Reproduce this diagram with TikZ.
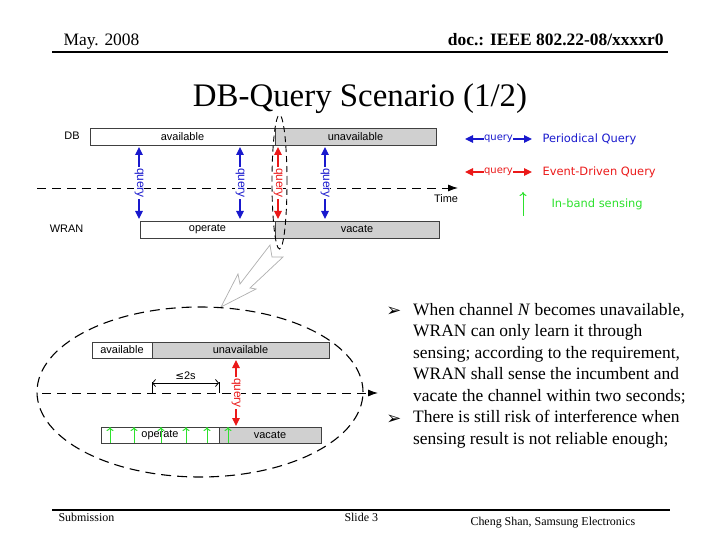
\documentclass[tikz,border=0pt]{standalone}
\usepackage{fontspec}
\setmainfont{Liberation Serif}
\newfontfamily\arial{Liberation Sans}
\newfontfamily\verd{DejaVu Sans}
\usetikzlibrary{arrows.meta}
\definecolor{bleu}{RGB}{25,25,205}
\definecolor{rouge}{RGB}{235,25,25}
\definecolor{vert}{RGB}{45,225,45}
\definecolor{gris}{RGB}{208,208,208}
\definecolor{grisbord}{RGB}{175,175,175}

\begin{document}
\begin{tikzpicture}[x=1bp, y=-1bp,
  lbl/.style={font=\arial\fontsize{11}{13}\selectfont},
  bar/.style={draw=black!75, line width=0.8bp},
  axe/.style={dash pattern=on 9bp off 6bp, line width=0.9bp, -{Latex[length=10bp,width=7bp]}},
  qarrow/.style={line width=1.2bp, {Triangle[length=8bp,width=7.5bp]}-{Triangle[length=8bp,width=7.5bp]}},
  qlabel/.style={rotate=-90, fill=white, inner sep=0.6bp, font=\arial\fontsize{12}{14}\selectfont},
  leglabel/.style={fill=white, inner sep=0.6bp, font=\verd\fontsize{10}{12}\selectfont},
  sensarrow/.style={vert, line width=1bp, -{To[length=4bp,width=7bp]}}]

\useasboundingbox (0,0) rectangle (720,540);

% En-tete
\node[anchor=base west, font=\fontsize{17.5}{20}\selectfont] (date) at (60,46) {May. 2008};
\node[anchor=base east, font=\bfseries\fontsize{17.5}{20}\selectfont] (doc) at (667,46) {doc.: IEEE 802.22-08/xxxxr0};
\draw[line width=1.8bp] (52,52) -- (668,52);
\node[anchor=base, font=\fontsize{33}{36}\selectfont] (titre) at (360,107) {DB-Query Scenario (1/2)};

% Barres DB / WRAN
\node[lbl, anchor=center] (db) at (72,136) {DB};
\node[lbl, anchor=center] (wran) at (66.5,229) {WRAN};
\draw[bar, fill=white] (90,128) rectangle (275,145) node[midway, lbl] (dbav) {available};
\draw[bar, fill=gris] (275,128) rectangle (436,145) node[midway, lbl] (dbun) {unavailable};
\draw[bar, fill=white] (140,221) rectangle (275,238) node[midway, lbl] (wrop) {operate};
\draw[bar, fill=gris] (275,221) rectangle (439,238) node[midway, lbl] (wrva) {vacate};

% Axe du temps
\draw[axe] (37,188) -- (458,188);
\node[lbl] (time) at (446,199) {Time};

% Requetes
\draw[qarrow, bleu] (139,147) -- (139,219) node[midway, qlabel, text=bleu] (q1) {query};
\draw[qarrow, bleu] (240,147) -- (240,219) node[midway, qlabel, text=bleu] (q2) {query};
\draw[qarrow, rouge] (278,147) -- (278,219) node[midway, qlabel, text=rouge] (q3) {query};
\draw[qarrow, bleu] (325,147) -- (325,219) node[midway, qlabel, text=bleu] (q4) {query};
\draw[dash pattern=on 6bp off 4bp, line width=0.9bp] (279.5,182) ellipse [x radius=7.5bp, y radius=67bp];

% Legende
\draw[qarrow, bleu] (465,139) -- (532,139) node[midway, leglabel, text=bleu] (lq1) {query};
\node[anchor=west, text=bleu, font=\verd\fontsize{11.5}{13}\selectfont] (per) at (539,139) {Periodical Query};
\draw[qarrow, rouge] (465,172) -- (532,172) node[midway, leglabel, text=rouge] (lq2) {query};
\node[anchor=west, text=rouge, font=\verd\fontsize{11.5}{13}\selectfont] (evt) at (539,172) {Event-Driven Query};
\draw[sensarrow] (523,216) -- (523,192);
\node[anchor=west, text=vert, font=\verd\fontsize{11.5}{13}\selectfont] (inb) at (548,204) {In-band sensing};

% Loupe
\draw[grisbord, fill=white, line width=0.7bp] (270,245) -- (272,257) -- (283,257) -- (250,288) -- (256,289)
  -- (221,307) -- (238,274) -- (240,284) -- cycle;
\draw[dash pattern=on 10bp off 6bp, line width=1.1bp] (200,392) ellipse [x radius=163bp, y radius=85bp];

% Detail
\draw[bar, fill=white] (92,342) rectangle (152,358) node[midway, lbl] (zav) {available};
\draw[bar, fill=gris] (152,342) rectangle (329,358) node[midway, lbl] (zun) {unavailable};
\draw[axe] (42,393) -- (378,393);
\draw[line width=0.8bp] (152,393) -- (152,382);
\draw[line width=0.8bp] (219,393) -- (219,382);
\draw[line width=0.8bp, {Straight Barb[length=3bp,width=7bp]}-{Straight Barb[length=3bp,width=7bp]}] (152,383) -- (219,383)
  node[midway, above=0bp, lbl] (delai) {{\verd\fontsize{10.5}{12}\selectfont ≤}2s};
\draw[bar, fill=white] (101,427) rectangle (219,443) node[midway, lbl] (zop) {operate};
\draw[bar, fill=gris] (219,427) rectangle (321,443) node[midway, lbl] (zva) {vacate};
\draw[qarrow, rouge] (236,360) -- (236,426) node[midway, qlabel, text=rouge] (zq) {query};
\foreach \xs in {110,134,161,186,207,228}
  \draw[sensarrow] (\xs,443) -- (\xs,427);

% Texte
\node[anchor=base, font=\verd\fontsize{18}{20}\selectfont] (puce1) at (394,316) {➢};
\node[anchor=base, font=\verd\fontsize{18}{20}\selectfont] (puce2) at (394,424) {➢};
\node[anchor=north west, inner sep=0pt, align=left, font=\fontsize{17.5}{21.6}\selectfont] (texte) at (413,303)
  {When channel \textit{N} becomes unavailable,\\
   WRAN can only learn it through\\
   sensing; according to the requirement,\\
   WRAN shall sense the incumbent and\\
   vacate the channel within two seconds;\\
   There is still risk of interference when\\
   sensing result is not reliable enough;};

% Pied de page
\draw[line width=1.8bp] (52,510) -- (670,510);
\node[anchor=base west, font=\fontsize{12}{14}\selectfont] (sub) at (55,521) {Submission};
\node[anchor=base west, font=\fontsize{12}{14}\selectfont] (slide) at (341,521) {Slide 3};
\node[anchor=base west, font=\fontsize{12}{14}\selectfont] (auteur) at (467,525) {Cheng Shan, Samsung Electronics};

\end{tikzpicture}
\end{document}
